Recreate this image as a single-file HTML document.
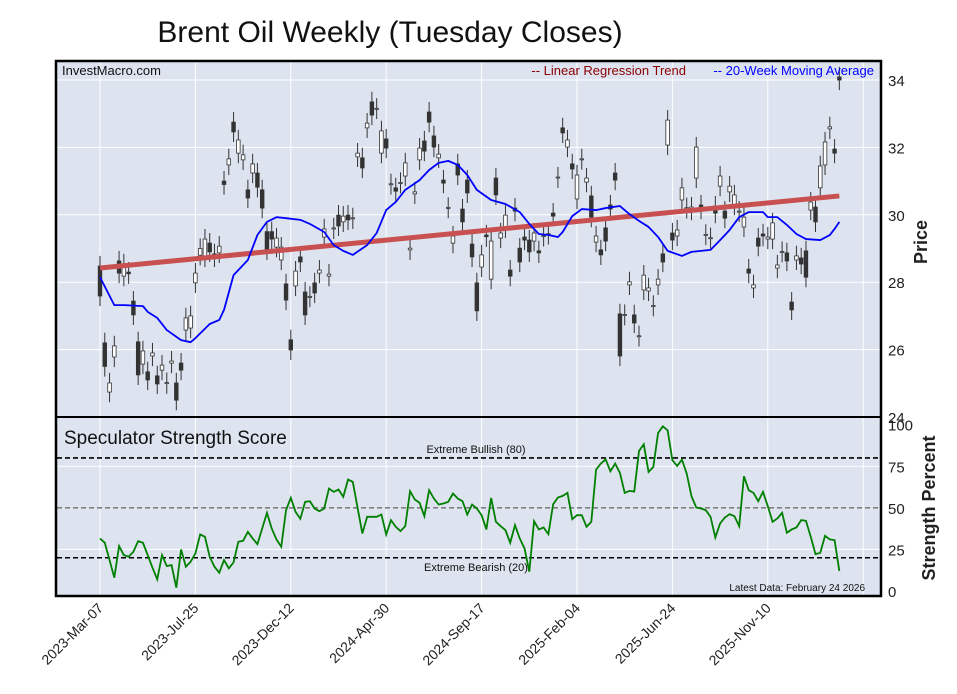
<!DOCTYPE html>
<html><head><meta charset="utf-8"><style>
body{margin:0;background:#fff;width:957px;height:694px;overflow:hidden;font-family:"Liberation Sans",sans-serif}
svg{display:block}
</style></head><body>
<svg id="chart" width="957" height="694" xmlns="http://www.w3.org/2000/svg" font-family="Liberation Sans, sans-serif">
<text x="390" y="42" font-size="30" text-anchor="middle" fill="#111">Brent Oil Weekly (Tuesday Closes)</text>
<rect x="56" y="61" width="825" height="535" fill="#dde3ef"/>
<g id="grid"></g>
<g id="lower"></g>
<g id="upper"></g>
<rect x="56" y="61" width="825" height="535" fill="none" stroke="#000" stroke-width="2.5"/>
<line x1="56" y1="417" x2="881" y2="417" stroke="#000" stroke-width="2"/>
<text x="62" y="75" font-size="13" fill="#111">InvestMacro.com</text>
<text x="686" y="75" font-size="13" text-anchor="end" fill="#8b0000">-- Linear Regression Trend</text>
<text x="874" y="75" font-size="13" text-anchor="end" fill="#0000ff">-- 20-Week Moving Average</text>
<text x="64" y="444" font-size="19" fill="#111">Speculator Strength Score</text>
<text x="476" y="453" font-size="11" text-anchor="middle" fill="#111">Extreme Bullish (80)</text>
<text x="476" y="571" font-size="11" text-anchor="middle" fill="#111">Extreme Bearish (20)</text>
<text x="865" y="591" font-size="10" text-anchor="end" fill="#111">Latest Data: February 24 2026</text>
<text transform="translate(927,242) rotate(-90)" font-size="18" font-weight="bold" text-anchor="middle" fill="#222">Price</text>
<text transform="translate(935,508) rotate(-90)" font-size="18" font-weight="bold" text-anchor="middle" fill="#222">Strength Percent</text>
<g id="axes"></g>
</svg>
<script>
const dateLabels=["2023-Mar-07","2023-Jul-25","2023-Dec-12","2024-Apr-30","2024-Sep-17","2025-Feb-04","2025-Jun-24","2025-Nov-10"];
const priceTicks=[24,26,28,30,32,34];
const strengthTicks=[0,25,50,75,100];
const opens=[28.48,26.2,24.74,25.78,28.63,28.18,28.3,27.44,26.23,25.57,25.34,25.81,25.22,25.39,24.99,25.6,25.01,25.6,26.58,26.64,27.98,28.8,28.75,29.16,28.84,28.87,31.0,31.48,32.75,31.83,31.63,30.74,31.24,31.24,30.74,29.5,29.5,29.04,28.66,27.95,26.29,27.89,28.75,27.71,27.56,27.98,28.27,29.34,28.18,29.58,29.99,29.79,29.99,29.88,31.72,31.69,32.58,33.35,33.14,31.83,32.25,30.9,30.8,30.94,31.15,28.96,30.62,31.63,32.19,33.05,32.34,31.69,31.03,30.2,29.16,31.51,30.17,31.03,29.13,27.98,28.45,29.4,28.09,31.09,29.31,29.61,28.36,30.2,29.01,29.34,29.25,29.22,28.93,29.36,29.42,30.05,31.1,32.58,32.01,31.51,30.47,31.64,30.97,30.56,29.19,28.96,29.61,30.29,31.24,27.06,27.02,27.92,27.03,26.39,27.77,27.74,27.29,27.92,28.84,32.07,29.46,29.37,30.44,30.19,30.14,31.09,30.29,29.4,29.3,30.26,30.85,30.11,30.68,30.29,30.09,29.64,28.39,27.83,29.31,29.43,29.28,29.28,28.42,28.89,28.87,27.41,28.66,28.72,28.93,30.14,30.23,30.8,31.48,32.55,31.95,34.09];
const closes=[27.59,25.5,25.01,26.11,28.27,28.54,28.25,27.03,25.25,25.96,25.1,25.9,24.98,25.54,25.02,25.66,24.5,25.39,26.94,27.0,28.27,29.0,29.28,28.9,28.75,29.07,30.9,31.66,32.46,32.22,31.78,30.5,31.51,30.82,30.2,28.96,29.28,29.31,29.04,27.47,25.99,28.33,28.6,27.03,27.58,27.68,28.36,29.58,28.24,29.61,29.67,29.96,29.85,29.91,31.83,31.39,32.72,32.96,33.16,32.49,31.98,30.92,30.7,30.96,31.54,29.01,30.68,31.98,31.89,32.75,32.01,31.8,30.94,30.22,29.37,31.18,29.79,30.65,28.75,27.15,28.81,29.35,29.22,30.59,29.46,29.99,28.18,30.11,28.6,29.25,28.9,29.46,28.87,29.38,29.44,29.96,31.12,32.43,32.22,31.36,31.18,31.66,31.09,29.93,29.37,28.81,29.22,30.17,31.03,25.81,27.04,28.01,26.79,26.41,28.21,27.83,27.31,28.09,28.6,32.81,29.25,29.55,30.8,30.21,30.23,32.01,30.17,29.42,29.32,30.05,31.15,29.9,30.85,30.59,30.11,29.93,28.27,27.92,29.07,29.37,29.34,29.76,28.51,28.91,28.63,27.18,28.78,28.54,28.15,30.38,29.79,31.45,32.16,32.61,31.83,34.0];
const maWeeks=[0,3,5,9,10,12,14,17,19,20,23,25,26,28,31,33,35,37,39,42,44,47,49,51,53,56,58,60,62,64,67,69,71,73,75,77,79,82,85,88,90,92,94,96,97,99,101,104,106,109,111,113,115,117,119,122,124,128,130,132,134,136,139,140,142,144,146,148,151,153,154,155];
const maValues=[28.15,27.32,27.32,27.29,27.12,26.94,26.58,26.28,26.22,26.34,26.76,26.88,27.18,28.21,28.66,29.4,29.79,29.93,29.9,29.85,29.73,29.49,29.1,28.93,28.81,29.1,29.46,30.14,30.38,30.74,31.03,31.33,31.54,31.6,31.48,31.18,30.74,30.44,30.32,30.08,29.73,29.43,29.4,29.34,29.49,29.96,30.17,30.14,30.2,30.26,30.02,29.82,29.64,29.34,28.93,28.78,28.9,28.96,29.25,29.55,29.93,30.08,30.08,29.93,29.93,29.7,29.43,29.28,29.25,29.4,29.58,29.79];
const trendStart=28.42;
const trendEnd=30.56;
const strength=[31.6,29,18.6,8,27,21.6,20.6,23.6,30,29,21.6,14,7,21.6,15,15.6,2,25,14.6,17.6,22.6,34,32.6,20.6,14.6,11,18.6,13.6,17.2,29.6,30.2,35.6,31.6,28.2,37.6,47,37.6,31,26.6,48.6,56,47.6,43.4,53.6,54,49.6,48,49.6,61.6,59.6,61,56.6,67,65.6,50,34.6,44.6,44.6,44.6,46,34,42.6,38.6,36,39,60,55,53,45,60.6,55.6,52,52.6,53.6,58.6,55.6,54,46,52,49.6,45.6,37,56,41.6,39,36.6,29,39.6,31.6,25.6,11.6,42,37,38.2,34.2,52.2,56.2,57.2,59,43.2,45.6,45.6,38.6,41.6,73,76.6,79.2,72,76.6,71,59,60.2,59.8,84.2,88.2,71.6,74.6,95,99,96.6,78.6,75.2,79,70.6,57,50.2,49.6,48.6,44.6,32.2,40.6,44.2,46.2,45,39,69,60.6,59,54,59.6,51,41.6,43.6,47,35,37,38.2,42.6,42.2,32.6,22.2,23,33.2,31,30.6,12];

const NS="http://www.w3.org/2000/svg";
function xw(i){return 100+4.77*i;}
function yp(p){return 80+(34-p)*33.7;}
function ys(v){return 591-v*1.663;}
function mk(parent,tag,attrs){const e=document.createElementNS(NS,tag);for(const k in attrs)e.setAttribute(k,attrs[k]);parent.appendChild(e);return e;}
const grid=document.getElementById('grid'),upper=document.getElementById('upper'),lower=document.getElementById('lower'),axes=document.getElementById('axes');

// vertical grid + date labels
for(let k=0;k<=dateLabels.length;k++){
  const x=xw(k*20);
  const g=mk(grid,'line',{x1:x,y1:61,x2:x,y2:596,stroke:'#fff','stroke-width':1});
  
  
  if(k<dateLabels.length){
    const t=mk(axes,'text',{transform:`translate(${x+4},609) rotate(-45)`,'font-size':14,'text-anchor':'end',fill:'#222'});
    t.textContent=dateLabels[k];
    
    
  }
}
// price grid + ticks
priceTicks.forEach(p=>{
  const y=yp(p);
  if(p>24){const g=mk(grid,'line',{x1:56,y1:y,x2:881,y2:y,stroke:'#fff','stroke-width':1});
  
  }
  const t=mk(axes,'text',{x:888,y:y+6,'font-size':15,fill:'#222'});t.textContent=p;
  
  
});
// strength grid + ticks
strengthTicks.forEach(v=>{
  const y=ys(v);
  if(v==25||v==75){const g=mk(grid,'line',{x1:56,y1:y,x2:881,y2:y,stroke:'#fff','stroke-width':1});
  
  }
  const t=mk(axes,'text',{x:888,y:y+6,'font-size':15,fill:'#222'});t.textContent=v;
  
  
});
// threshold lines
[[80,'#000'],[50,'#808080'],[20,'#000']].forEach(([v,c])=>{
  const l=mk(lower,'line',{x1:57,y1:ys(v),x2:880,y2:ys(v),stroke:c,'stroke-width':1.6,'stroke-dasharray':'5,3'});
  
  
});
// strength line
const sp=mk(lower,'polyline',{points:strength.map((v,i)=>xw(i)+','+ys(v)).join(' '),fill:'none',stroke:'#008000','stroke-width':1.8});


// candles
opens.forEach((o,i)=>{
  const c=closes[i],x=xw(i),up=c>=o;
  const hi=Math.max(o,c)+0.3,lo=Math.min(o,c)-0.3;
  const w=mk(upper,'line',{x1:x,y1:yp(hi),x2:x,y2:yp(lo),stroke:'#333','stroke-width':1});
  
  
  const top=yp(Math.max(o,c)),h=Math.max(1,yp(Math.min(o,c))-top);
  const b=mk(upper,'rect',{x:x-1.8,y:top,width:3.6,height:h,fill:up?'#fff':'#333',stroke:'#333','stroke-width':0.8});
  
  
});
// regression trend
const tr=mk(upper,'line',{x1:xw(0),y1:yp(trendStart),x2:xw(closes.length-1),y2:yp(trendEnd),stroke:'#c85050','stroke-width':5});


// moving average
const ma=mk(upper,'polyline',{points:maWeeks.map((w,k)=>xw(w)+','+yp(maValues[k])).join(' '),fill:'none',stroke:'#0000ff','stroke-width':1.8,'stroke-linejoin':'round'});


</script>
</body></html>
